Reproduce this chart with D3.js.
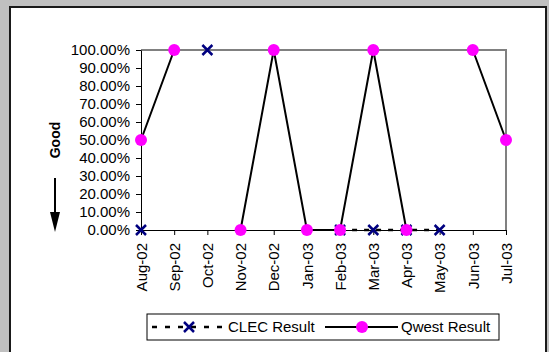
<!DOCTYPE html>
<html>
<head>
<meta charset="utf-8">
<script src="https://cdn.jsdelivr.net/npm/d3@7"></script>
<style>
  body { margin: 0; background: #c0c0c0; }
  svg { display: block; font-family: Arial, "Liberation Sans", sans-serif; }
</style>
</head>
<body>
<svg id="chart" width="549" height="352"></svg>
<script>
// data
const months = ["Aug-02", "Sep-02", "Oct-02", "Nov-02", "Dec-02", "Jan-03",
                "Feb-03", "Mar-03", "Apr-03", "May-03", "Jun-03", "Jul-03"];
const clecResult  = [0, null, 1, null, null, null, 0, 0, 0, 0, null, null];
const qwestResult = [0.5, 1, null, 0, 1, 0, 0, 1, 0, null, 1, 0.5];
const yTicks = [0, 0.1, 0.2, 0.3, 0.4, 0.5, 0.6, 0.7, 0.8, 0.9, 1];

const svg = d3.select("#chart");

// chart area
svg.append("rect")
    .attr("x", 10).attr("y", 7)
    .attr("width", 536).attr("height", 360)
    .attr("fill", "#fff")
    .attr("stroke", "#1a1a1a")
    .attr("stroke-width", 2);

const x = d3.scalePoint().domain(months).range([141, 506]);
const y = d3.scaleLinear().domain([0, 1]).range([230, 50]);

// plot area border (grey)
svg.append("path")
    .attr("d", `M${x.range()[0]},${y(1)}H${x.range()[1]}V${y(0)}`)
    .attr("fill", "none")
    .attr("stroke", "#808080")
    .attr("stroke-width", 2);

// y axis
const yAxis = svg.append("g")
    .attr("transform", `translate(${x.range()[0]},0)`)
    .call(d3.axisLeft(y).tickValues(yTicks).tickFormat(d3.format(".2%"))
      .tickSize(5).tickPadding(6).tickSizeOuter(0));
yAxis.select(".domain").attr("stroke", "#000");
yAxis.selectAll("text").attr("font-size", 15).attr("fill", "#000").attr("font-family", null);

// x axis
const xAxis = svg.append("g")
    .attr("transform", `translate(0,${y(0)})`)
    .call(d3.axisBottom(x).tickSize(5).tickSizeOuter(0));
xAxis.select(".domain").attr("stroke", "#000");
xAxis.selectAll("text")
    .attr("font-size", 15).attr("fill", "#000").attr("font-family", null)
    .attr("text-anchor", "end")
    .attr("transform", "translate(0,13) rotate(-90)")
    .attr("x", 0).attr("y", 0).attr("dy", "0.35em");

// "Good" label with downward arrow
svg.append("text")
    .attr("transform", "translate(55,140) rotate(-90)")
    .attr("text-anchor", "middle")
    .attr("dy", "0.35em")
    .attr("font-size", 14)
    .attr("font-weight", "bold")
    .text("Good");
svg.append("line")
    .attr("x1", 55).attr("x2", 55).attr("y1", 178).attr("y2", 213)
    .attr("stroke", "#000").attr("stroke-width", 2);
svg.append("path")
    .attr("d", "M50,212L60,212L55,232Z")
    .attr("fill", "#000");

// series
const lineGen = d3.line()
    .defined(d => d.v !== null)
    .x(d => x(d.m))
    .y(d => y(d.v));

const clecData = months.map((m, i) => ({m: m, v: clecResult[i]}));
const qwestData = months.map((m, i) => ({m: m, v: qwestResult[i]}));

function xMark(g, cx, cy) {
  g.append("path")
    .attr("d", `M${cx - 5},${cy - 5}L${cx + 5},${cy + 5}M${cx - 5},${cy + 5}L${cx + 5},${cy - 5}`)
    .attr("stroke", "#000080")
    .attr("stroke-width", 2.5)
    .attr("fill", "none");
}

svg.append("path")
    .datum(clecData)
    .attr("d", lineGen)
    .attr("fill", "none")
    .attr("stroke", "#000")
    .attr("stroke-width", 2.5)
    .attr("stroke-dasharray", "5,7");

const clecMarks = svg.append("g");
clecData.filter(d => d.v !== null).forEach(d => xMark(clecMarks, x(d.m), y(d.v)));

svg.append("path")
    .datum(qwestData)
    .attr("d", lineGen)
    .attr("fill", "none")
    .attr("stroke", "#000")
    .attr("stroke-width", 2);

svg.append("g").selectAll("circle")
  .data(qwestData.filter(d => d.v !== null))
  .join("circle")
    .attr("cx", d => x(d.m))
    .attr("cy", d => y(d.v))
    .attr("r", 6)
    .attr("fill", "#ff00ff");

// legend
const legend = svg.append("g");
legend.append("rect")
    .attr("x", 147).attr("y", 314)
    .attr("width", 352).attr("height", 26)
    .attr("fill", "#fff")
    .attr("stroke", "#000");
legend.append("line")
    .attr("x1", 152).attr("x2", 224).attr("y1", 327).attr("y2", 327)
    .attr("stroke", "#000").attr("stroke-width", 2.5)
    .attr("stroke-dasharray", "5,8");
xMark(legend, 189, 327);
legend.append("text")
    .attr("x", 228).attr("y", 327).attr("dy", "0.35em")
    .attr("font-size", 15)
    .text("CLEC Result");
legend.append("line")
    .attr("x1", 325).attr("x2", 398).attr("y1", 327).attr("y2", 327)
    .attr("stroke", "#000").attr("stroke-width", 2);
legend.append("circle")
    .attr("cx", 362).attr("cy", 327).attr("r", 6)
    .attr("fill", "#ff00ff");
legend.append("text")
    .attr("x", 401).attr("y", 327).attr("dy", "0.35em")
    .attr("font-size", 15)
    .text("Qwest Result");
</script>
</body>
</html>
